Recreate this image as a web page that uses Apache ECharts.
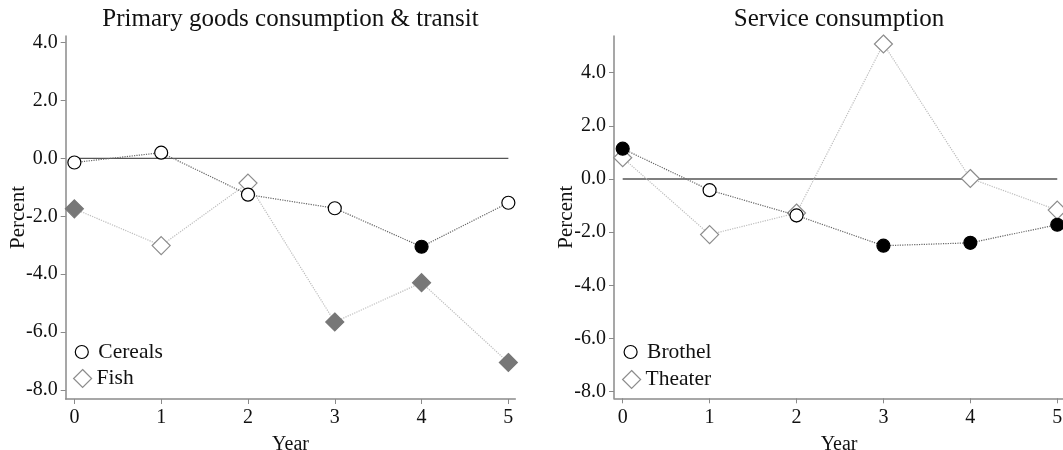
<!DOCTYPE html>
<html>
<head>
<meta charset="utf-8">
<style>
  html, body { margin: 0; padding: 0; background: #fff; }
  #main { width: 1063px; height: 450px; }
</style>
<script src="https://cdn.jsdelivr.net/npm/echarts@6.0.0/dist/echarts.min.js"></script>
</head>
<body>
<div id="main"></div>
<script>
var years = [0, 1, 2, 3, 4, 5];
var yTicks = [-8, -6, -4, -2, 0, 2, 4];

// left panel
var cereals = [-0.14, 0.20, -1.25, -1.72, -3.05, -1.53];
var cerealsSig = [0, 0, 0, 0, 1, 0];
var fish = [-1.74, -3.01, -0.85, -5.65, -4.29, -7.05];
var fishSig = [1, 0, 0, 1, 1, 1];

// right panel
var brothel = [1.14, -0.42, -1.37, -2.51, -2.40, -1.72];
var brothelSig = [1, 0, 0, 1, 1, 1];
var theater = [0.80, -2.09, -1.28, 5.08, 0.02, -1.17];
var theaterSig = [0, 0, 0, 0, 0, 0];

var FONT = "'Liberation Serif', 'DejaVu Serif', serif";
var AXIS_GRAY = '#8a8a8a';

function pointSeries(name, values, sig, idx, dark) {
  var fill = dark ? '#000' : '#777';
  var data = years.map(function (y, i) {
    var item = { value: [y, values[i]] };
    if (sig[i]) {
      item.itemStyle = { color: fill, borderColor: fill };
    }
    return item;
  });
  return {
    name: name,
    type: 'line',
    xAxisIndex: idx,
    yAxisIndex: idx,
    data: data,
    symbol: dark ? 'circle' : 'diamond',
    symbolSize: dark ? 13 : 18,
    itemStyle: { color: '#fff', borderColor: dark ? '#000' : '#8c8c8c', borderWidth: 1.2 },
    lineStyle: { type: 'dotted', width: 1.2, color: dark ? '#666' : '#bdbdbd' },
    z: dark ? 4 : 3,
    animation: false
  };
}

// horizontal reference line at 0
function zeroSeries(idx) {
  return {
    type: 'line',
    xAxisIndex: idx,
    yAxisIndex: idx,
    data: [[years[0], 0], [years[years.length - 1], 0]],
    symbol: 'none',
    silent: true,
    lineStyle: { type: 'solid', width: 1.3, color: '#555' },
    z: 1,
    animation: false
  };
}

function xAxisFor(idx) {
  return {
    type: 'value',
    gridIndex: idx,
    min: -0.1,
    max: 5.08,
    name: 'Year',
    nameLocation: 'middle',
    nameGap: 36,
    nameTextStyle: { fontFamily: FONT, fontSize: 20, color: '#111' },
    axisLine: { show: true, onZero: false, lineStyle: { color: AXIS_GRAY, width: 1.5 } },
    axisTick: { show: true, length: 5, customValues: years, lineStyle: { color: AXIS_GRAY } },
    axisLabel: { customValues: years, margin: 9, fontFamily: FONT, fontSize: 20, color: '#111' },
    splitLine: { show: false }
  };
}

function yAxisFor(idx, min, max) {
  return {
    type: 'value',
    gridIndex: idx,
    min: min,
    max: max,
    name: 'Percent',
    nameLocation: 'middle',
    nameGap: 37,
    nameMoveOverlap: false,
    nameTextStyle: { fontFamily: FONT, fontSize: 21, color: '#111' },
    axisLine: { show: true, onZero: false, lineStyle: { color: AXIS_GRAY, width: 1.5 } },
    axisTick: { show: true, length: 5, customValues: yTicks, lineStyle: { color: AXIS_GRAY } },
    axisLabel: {
      customValues: yTicks,
      margin: 8,
      fontFamily: FONT,
      fontSize: 20,
      color: '#111',
      formatter: function (v) { return v.toFixed(1); }
    },
    splitLine: { show: false }
  };
}

function legendFor(name, dark, left, top) {
  return {
    left: left,
    top: top,
    padding: 0,
    itemWidth: dark ? 23 : 18,
    itemHeight: dark ? 13 : 18,
    selectedMode: false,
    textStyle: { fontFamily: FONT, fontSize: 21.5, color: '#111' },
    data: [{
      name: name,
      icon: dark ? 'circle' : 'diamond',
      itemStyle: { color: '#fff', borderColor: dark ? '#000' : '#8c8c8c', borderWidth: 1.2 }
    }]
  };
}

var titleStyle = { fontFamily: FONT, fontSize: 25, fontWeight: 'normal', color: '#111' };

var chart = echarts.init(document.getElementById('main'), null, { renderer: 'canvas' });

var option = {
  backgroundColor: '#fff',
  animation: false,
  title: [
    { text: 'Primary goods consumption & transit', left: 290.5, top: 7, padding: 0, textAlign: 'center', textStyle: titleStyle },
    { text: 'Service consumption', left: 839, top: 7, padding: 0, textAlign: 'center', textStyle: titleStyle }
  ],
  grid: [
    { left: 65.7, top: 36, width: 449.6, height: 363, outerBoundsMode: 'none' },
    { left: 614, top: 36, width: 450.2, height: 362.3, outerBoundsMode: 'none' }
  ],
  xAxis: [xAxisFor(0), xAxisFor(1)],
  yAxis: [yAxisFor(0, -8.31, 4.23), yAxisFor(1, -8.25, 5.38)],
  legend: [
    legendFor('Cereals', true, 74.7, 341),
    legendFor('Fish', false, 73, 367.5),
    legendFor('Brothel', true, 623.5, 341),
    legendFor('Theater', false, 622, 368.5)
  ],
  series: [
    zeroSeries(0),
    pointSeries('Fish', fish, fishSig, 0, false),
    pointSeries('Cereals', cereals, cerealsSig, 0, true),
    zeroSeries(1),
    pointSeries('Theater', theater, theaterSig, 1, false),
    pointSeries('Brothel', brothel, brothelSig, 1, true)
  ]
};

chart.setOption(option);
</script>
</body>
</html>
